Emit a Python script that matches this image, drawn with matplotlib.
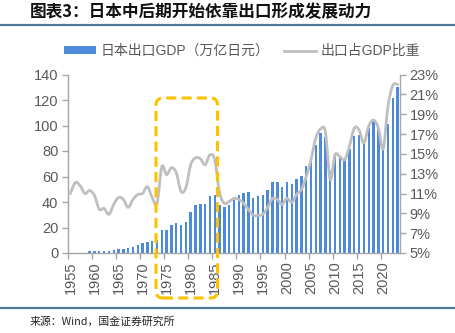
import numpy as np
import matplotlib
matplotlib.use("Agg")
import matplotlib.pyplot as plt
from matplotlib.path import Path
from matplotlib.patches import PathPatch, FancyBboxPatch, Patch
from matplotlib.lines import Line2D

# ---------------- data ----------------
years = list(range(1955, 2024))
exports = [np.nan, np.nan, np.nan, np.nan,
           1.2, 1.3, 1.3, 1.4, 1.5, 2.3, 3.0, 3.2, 4.1, 4.9, 6.0,
           7.6, 8.6, 9.6, 10.4, 18.0, 18.0, 21.8, 23.6, 22.0, 24.7,
           32.0, 38.0, 38.8, 38.8, 44.6, 45.7, 38.0, 36.2, 37.5, 41.5,
           45.4, 46.7, 47.5, 43.3, 44.6, 45.4, 49.3, 55.9, 55.9, 52.0,
           56.0, 54.0, 57.8, 60.4, 68.2, 74.8, 85.0, 94.5, 91.0, 64.3,
           78.7, 74.8, 73.5, 81.4, 92.0, 92.5, 87.0, 98.0, 103.5, 97.0,
           84.0, 101.0, 121.7, 130.4]
share = [11.0, 12.1, 11.8, 11.0, 11.3, 10.8, 9.4, 9.5, 8.9, 9.9,
         10.6, 10.4, 9.6, 10.4, 10.9, 11.0, 11.7, 10.6, 10.0, 13.7,
         12.9, 13.6, 13.1, 11.2, 11.6, 13.9, 14.6, 14.5, 13.9, 14.9,
         14.4, 11.1, 10.0, 10.2, 10.5, 10.4, 10.0, 9.4, 8.8, 8.8,
         8.9, 9.6, 10.5, 10.4, 9.9, 10.5, 10.1, 10.9, 11.4, 12.7,
         14.4, 16.6, 17.5, 17.2, 12.4, 14.9, 14.7, 14.4, 15.8, 17.6,
         17.4, 16.1, 17.8, 18.4, 17.6, 15.5, 19.8, 21.9, 22.0]
left_ticks = [0, 20, 40, 60, 80, 100, 120, 140]
right_ticks = [5, 7, 9, 11, 13, 15, 17, 19, 21, 23]
label_years = list(range(1955, 2021, 5))

title = "图表3：日本中后期开始依靠出口形成发展动力"
source = "来源：Wind，国金证券研究所"
bar_label = "日本出口GDP（万亿日元）"
line_label = "出口占GDP比重"

# ---------------- style ----------------
BAR = "#4d8ad8"
LINE = "#bfbfbf"
TXT = "#595959"
AX = "#a6a6a6"
SEP = "#4f7a9c"
ORANGE = "#ffc000"
LAT = ["Liberation Sans", "Noto Sans CJK SC", "DejaVu Sans"]
CJK = ["Noto Sans CJK SC", "DejaVu Sans"]

fig = plt.figure(figsize=(4.55, 3.33), dpi=100)
ax = fig.add_axes([68 / 455, 1 - 253 / 333, 332 / 455, 178.5 / 333])

ax.bar(years, exports, width=0.5, color=BAR, zorder=2)
ax.set_xlim(1954.5, 2023.5)
ax.set_ylim(0, 140)
ax.set_yticks(left_ticks)
ax.set_yticklabels([str(t) for t in left_ticks], family=LAT, fontsize=10.5, color=TXT)
ax.set_xticks(label_years)
ax.set_xticklabels([str(y) for y in label_years], rotation=90, family=LAT,
                   fontsize=10.5, color=TXT)
ax.tick_params(axis="x", which="major", length=0, pad=6)
ax.set_xticks([y - 0.5 for y in range(1955, 2024, 5)], minor=True)
ax.tick_params(axis="x", which="minor", length=4, color=AX, width=1)
ax.tick_params(axis="y", length=4, color=AX, width=1, pad=3)
for s in ["top", "right"]:
    ax.spines[s].set_visible(False)
for s in ["left", "bottom"]:
    ax.spines[s].set_color(AX)
    ax.spines[s].set_linewidth(1)

ax2 = ax.twinx()
ax2.set_ylim(5, 23)
ax2.set_yticks(right_ticks)
ax2.set_yticklabels([f"{t}%" for t in right_ticks], family=LAT, fontsize=10.5, color=TXT)
ax2.tick_params(axis="y", length=4, color=AX, width=1, pad=3)
for s in ["top", "left", "bottom"]:
    ax2.spines[s].set_visible(False)
ax2.spines["right"].set_color(AX)
ax2.spines["right"].set_linewidth(1)

# smoothed line (Bezier through the data points, like a spreadsheet's smooth line)
xs = np.array(years, dtype=float)
ys = np.array(share, dtype=float)
verts = [(xs[0], ys[0])]
codes = [Path.MOVETO]
n = len(xs)
for i in range(n - 1):
    p0 = np.array([xs[max(i - 1, 0)], ys[max(i - 1, 0)]])
    p1 = np.array([xs[i], ys[i]])
    p2 = np.array([xs[i + 1], ys[i + 1]])
    p3 = np.array([xs[min(i + 2, n - 1)], ys[min(i + 2, n - 1)]])
    c1 = p1 + (p2 - p0) / 6.0
    c2 = p2 - (p3 - p1) / 6.0
    verts += [tuple(c1), tuple(c2), tuple(p2)]
    codes += [Path.CURVE4] * 3
ax2.add_patch(PathPatch(Path(verts, codes), facecolor="none", edgecolor=LINE,
                        lw=2.0, capstyle="round", joinstyle="round", zorder=3))

# highlight box (1973-1985)
bx0, bx1 = 156 / 455, 217.5 / 455
by0, by1 = 1 - 298 / 333, 1 - 98 / 333
box = FancyBboxPatch((bx0, by0), bx1 - bx0, by1 - by0,
                     boxstyle=f"round,pad=0,rounding_size={7/455}",
                     mutation_aspect=455 / 333,
                     transform=fig.transFigure, facecolor="none",
                     edgecolor=ORANGE, lw=2.2, linestyle=(0, (3.3, 1.7)),
                     clip_on=False, zorder=10)
fig.add_artist(box)

# legend
handles = [Patch(facecolor=BAR, edgecolor="none"),
           Line2D([], [], color=LINE, lw=2.0)]
leg = fig.legend(handles, [bar_label, line_label], loc="center",
                 bbox_to_anchor=(242 / 455, 1 - 51 / 333), ncol=2, frameon=False,
                 prop={"family": LAT, "size": 10}, handlelength=2.3,
                 handleheight=0.45, handletextpad=0.35, columnspacing=1.0,
                 borderaxespad=0)
for t in leg.get_texts():
    t.set_color(TXT)

# title, separators, source
fig.text(30 / 455, 1 - 12 / 333, title, family=CJK, fontsize=12, fontweight="bold",
         va="center", ha="left", color="#111111")
fig.add_artist(Line2D([0, 1], [1 - 25 / 333] * 2, color=SEP, lw=1.6,
                      transform=fig.transFigure))
fig.add_artist(Line2D([0, 1], [1 - 308 / 333] * 2, color=SEP, lw=1.6,
                      transform=fig.transFigure))
fig.text(30 / 455, 1 - 322 / 333, source, family=CJK, fontsize=7.8, va="center",
         ha="left", color="#222222")

fig.savefig("out.png", dpi=100)
